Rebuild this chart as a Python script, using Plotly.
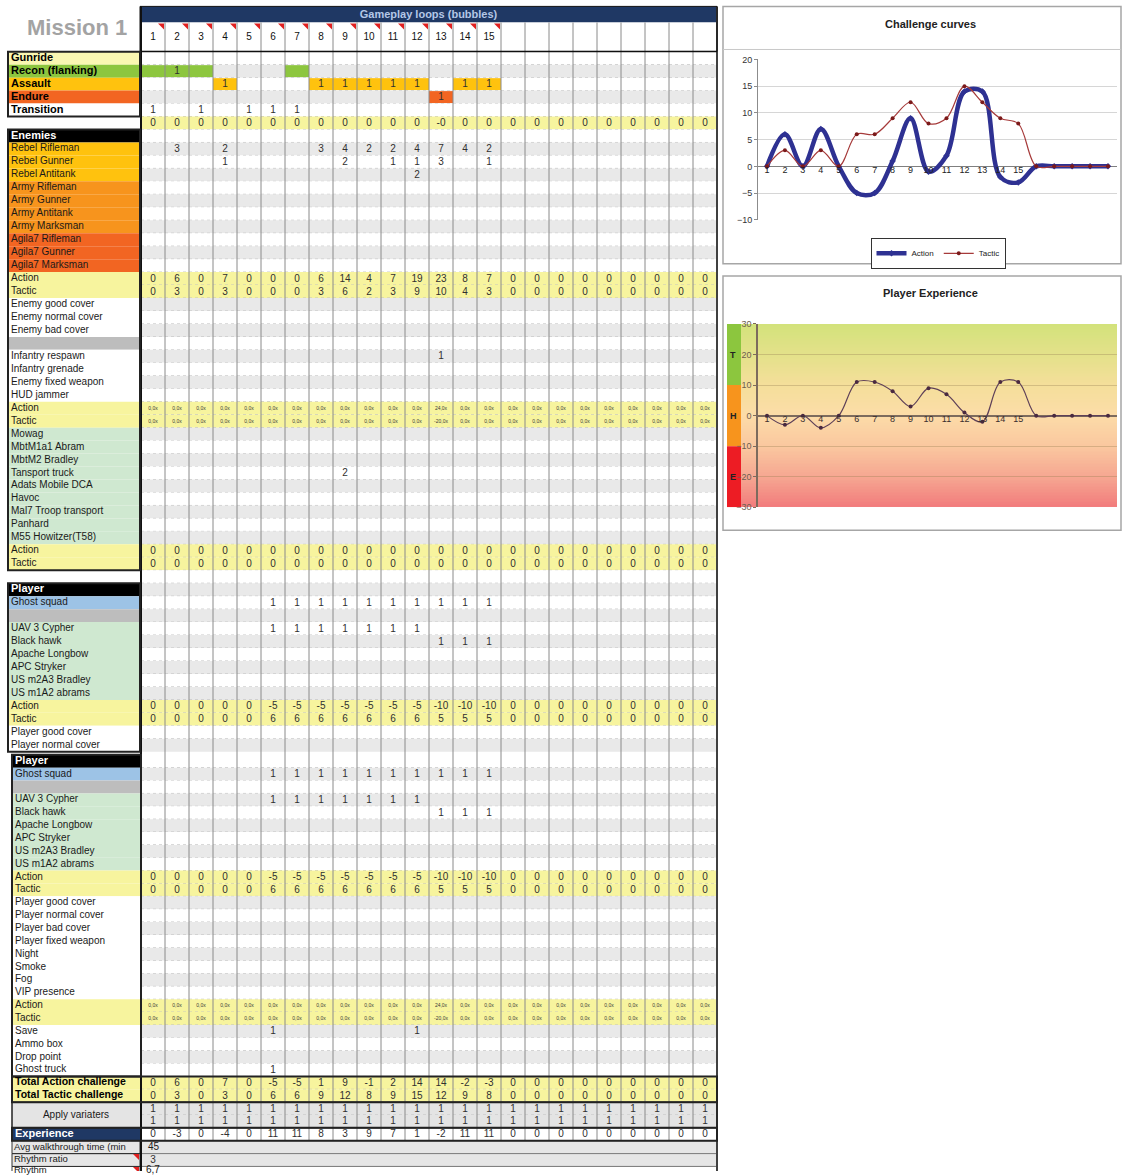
import plotly.graph_objects as go
import numpy as np

# ------------------------------------------------------------------ data
loop_numbers = [str(i) for i in range(1, 16)] + [""] * 9

gameplay_labels = ["Gunride", "Recon (flanking)", "Assault", "Endure", "Transition"]
recon = ["", "1", "", None, None, None, ""] + [None] * 17
assault = [None, None, None, "1", None, None, None, "1", "1", "1", "1", "1", None, "1", "1"] + [None] * 9
endure = [None] * 12 + ["1"] + [None] * 11
transition = [1, None, 1, None, 1, 1, 1] + [None] * 17
loop_check = ["0"] * 12 + ["-0"] + ["0"] * 11

enemy_labels = ["Rebel Rifleman", "Rebel Gunner", "Rebel Antitank",
                "Army Rifleman", "Army Gunner", "Army Antitank", "Army Marksman",
                "Agila7 Rifleman", "Agila7 Gunner", "Agila7 Marksman"]
rebel_rifleman = [None, 3, None, 2, None, None, None, 3, 4, 2, 2, 4, 7, 4, 2] + [None] * 9
rebel_gunner = [None, None, None, 1, None, None, None, None, 2, None, 1, 1, 3, None, 1] + [None] * 9
rebel_antitank = [None] * 11 + [2] + [None] * 12
enemy_action = [0, 6, 0, 7, 0, 0, 0, 6, 14, 4, 7, 19, 23, 8, 7] + [0] * 9
enemy_tactic = [0, 3, 0, 3, 0, 0, 0, 3, 6, 2, 3, 9, 10, 4, 3] + [0] * 9

cover_labels = ["Enemy good cover", "Enemy normal cover", "Enemy bad cover"]
enemy_extra_labels = ["Infantry respawn", "Infantry grenade", "Enemy fixed weapon", "HUD jammer"]
infantry_respawn = [None] * 12 + [1] + [None] * 11
modifier_action = ["0,0x"] * 12 + ["24,0x"] + ["0,0x"] * 11
modifier_tactic = ["0,0x"] * 12 + ["-20,0x"] + ["0,0x"] * 11

vehicle_labels = ["Mowag", "MbtM1a1 Abram", "MbtM2 Bradley", "Tansport truck", "Adats Mobile DCA",
                  "Havoc", "Mal7 Troop transport", "Panhard", "M55 Howitzer(T58)"]
transport_truck = [None] * 8 + [2] + [None] * 15
vehicle_action = [0] * 24
vehicle_tactic = [0] * 24

player_unit_labels = ["UAV 3 Cypher", "Black hawk", "Apache Longbow", "APC Stryker",
                      "US m2A3 Bradley", "US m1A2 abrams"]
ghost_squad = [None] * 5 + [1] * 10 + [None] * 9
uav_cypher = [None] * 5 + [1] * 7 + [None] * 12
black_hawk = [None] * 12 + [1] * 3 + [None] * 9
player_action = [0] * 5 + [-5] * 7 + [-10] * 3 + [0] * 9
player_tactic = [0] * 5 + [6] * 7 + [5] * 3 + [0] * 9

player_cover_labels = ["Player good cover", "Player normal cover", "Player bad cover",
                       "Player fixed weapon", "Night", "Smoke", "Fog", "VIP presence"]
support_labels = ["Save", "Ammo box", "Drop point", "Ghost truck"]
save = [None] * 5 + [1] + [None] * 5 + [1] + [None] * 12
ghost_truck = [None] * 5 + [1] + [None] * 18

total_action = [0, 6, 0, 7, 0, -5, -5, 1, 9, -1, 2, 14, 14, -2, -3] + [0] * 9
total_tactic = [0, 3, 0, 3, 0, 6, 6, 9, 12, 8, 9, 15, 12, 9, 8] + [0] * 9
variaters_a = [1] * 24
variaters_b = [1] * 24
experience = [0, -3, 0, -4, 0, 11, 11, 8, 3, 9, 7, 1, -2, 11, 11] + [0] * 9
avg_walkthrough = "45"
rhythm_ratio = "3"
rhythm = "6,7"

chart_categories = list(range(1, 21))
chart_tick_labels = [str(i) for i in range(1, 16)]

# ------------------------------------------------------------------ rows
rows = [("Gunride", "gunride", None),
        ("Recon (flanking)", "recon", recon),
        ("Assault", "assault", assault),
        ("Endure", "endure", endure),
        ("Transition", "plain_bold", transition),
        ("", "sum", loop_check),
        ("Enemies", "header", None)]
enemy_vals = [rebel_rifleman, rebel_gunner, rebel_antitank] + [None] * 7
enemy_kinds = ["rebel"] * 3 + ["army"] * 4 + ["agila"] * 3
rows += [(l, k, v) for l, k, v in zip(enemy_labels, enemy_kinds, enemy_vals)]
rows += [("Action", "yellow", enemy_action), ("Tactic", "yellow", enemy_tactic)]
rows += [(l, "plain", None) for l in cover_labels]
rows += [("", "gray", None)]
rows += [(l, "plain", v) for l, v in zip(enemy_extra_labels, [infantry_respawn, None, None, None])]
rows += [("Action", "tiny", modifier_action), ("Tactic", "tiny", modifier_tactic)]
rows += [(l, "green", transport_truck if l == "Tansport truck" else None) for l in vehicle_labels]
rows += [("Action", "yellow", vehicle_action), ("Tactic", "yellow", vehicle_tactic)]
rows += [("", "blank", None)]


def player_block():
    b = [("Player", "header", None), ("Ghost squad", "blue", ghost_squad), ("", "gray", None)]
    b += [(l, "green", v) for l, v in zip(player_unit_labels, [uav_cypher, black_hawk, None, None, None, None])]
    b += [("Action", "yellow", player_action), ("Tactic", "yellow", player_tactic)]
    return b


rows += player_block()
rows += [(l, "plain", None) for l in player_cover_labels[:2]]
SPLIT = len(rows)  # 54
rows += player_block()
rows += [(l, "plain", None) for l in player_cover_labels]
rows += [("Action", "tiny", modifier_action), ("Tactic", "tiny", modifier_tactic)]
rows += [(l, "plain", v) for l, v in zip(support_labels, [save, None, None, ghost_truck])]
rows += [("Total Action challenge", "total", total_action), ("Total Tactic challenge", "total", total_tactic)]
rows += [("Apply variaters", "variaters", variaters_a), ("", "variaters2", variaters_b)]
rows += [("Experience", "exp", experience)]
rows += [("Avg walkthrough time (min", "info_gray", None), ("Rhythm ratio", "info_gray", None),
         ("Rhythm", "info_white", None)]

# ------------------------------------------------------------------ geometry / style
W, H = 1122, 1176
# vertical calibration of the page coordinates (sheet pixel -> figure)
Y_OFF, Y_SCALE = 5.6, 0.9897
Y_TOP, Y_BOT = Y_OFF, Y_OFF + Y_SCALE * H


def dom_y(y_px):
    return 1 - (y_px - Y_TOP) / (Y_BOT - Y_TOP)


FONT = "Liberation Sans, Arial, sans-serif"
COL_X0, COL_W, N_COLS = 141.0, 24.0, 24
X_RIGHT = COL_X0 + N_COLS * COL_W
YELLOW = "#F7F49E"
STRIPE = "#E9E9E9"
LABEL_FILL = {"gunride": "#FAF7B2", "recon": "#8DC63F", "assault": "#FFC20E", "endure": "#F26522",
              "plain_bold": "#FFFFFF", "header": "#000000", "rebel": "#FFC20E", "army": "#F7941D",
              "agila": "#F26522", "yellow": YELLOW, "tiny": YELLOW, "plain": "#FFFFFF", "gray": "#BDBDBD",
              "green": "#CFE8D0", "blue": "#9DC3E6", "total": YELLOW, "variaters": "#E4E4E4",
              "exp": "#1F3864", "info_gray": "#E6E6E6", "info_white": "#FFFFFF"}


def col_left(c):
    return COL_X0 + c * COL_W


def col_center(c):
    return COL_X0 + (c + 0.5) * COL_W


def pitch(i):
    return 12.94 if i < SPLIT else 12.84


def row_center(i):
    if i < SPLIT:
        return 58.7 + i * 12.94
    return 760.5 + (i - SPLIT) * 12.84


def row_top(i):
    return row_center(i) - pitch(i) / 2


def row_bot(i):
    return row_center(i) + pitch(i) / 2


shapes = []


def rect(x0, y0, x1, y1, fill=None, lc=None, lw=0, layer="below", xref="x", yref="y", dash=None):
    d = dict(type="rect", x0=x0, y0=y0, x1=x1, y1=y1, xref=xref, yref=yref, layer=layer,
             fillcolor=fill if fill else "rgba(0,0,0,0)",
             line=dict(color=lc if lc else "rgba(0,0,0,0)", width=lw))
    if dash:
        d["line"]["dash"] = dash
    shapes.append(d)


def line(x0, y0, x1, y1, color, width=1, dash=None, xref="x", yref="y"):
    d = dict(type="line", x0=x0, y0=y0, x1=x1, y1=y1, xref=xref, yref=yref, layer="below",
             line=dict(color=color, width=width))
    if dash:
        d["line"]["dash"] = dash
    shapes.append(d)


texts = {}


def add_text(style, x, y, t):
    s = texts.setdefault(style, {"x": [], "y": [], "t": []})
    s["x"].append(x)
    s["y"].append(y)
    s["t"].append(t)


# header
rect(140, 7, X_RIGHT, 23, fill="#1F3864")
rect(141, 23, X_RIGHT, 52, fill="#FFFFFF")
add_text("hdr_title", (140 + X_RIGHT) / 2, 15.5, "Gameplay loops (bubbles)")
for c, lab in enumerate(loop_numbers):
    add_text("hdr_num", col_center(c), 38, lab)

i84, i85, i86 = len(rows) - 3, len(rows) - 2, len(rows) - 1

# rows
for i, (label, kind, vals) in enumerate(rows):
    t, b = row_top(i), row_bot(i)
    lx0 = 8 if i < SPLIT else 12
    if kind in ("yellow", "tiny", "sum", "total"):
        fill = YELLOW
    elif kind in ("variaters", "variaters2"):
        fill = "#E4E4E4"
    elif kind in ("exp", "info_white"):
        fill = "#FFFFFF"
    elif kind == "info_gray":
        fill = "#E6E6E6"
    else:
        fill = STRIPE if i % 2 == 1 else "#FFFFFF"
    rect(COL_X0, t, X_RIGHT, b, fill=fill)
    if kind not in ("sum", "blank", "variaters2"):
        bottom = row_bot(i + 1) if kind == "variaters" else b
        rect(lx0, t, 140, bottom, fill=LABEL_FILL[kind])
    if kind in ("recon", "assault", "endure"):
        for c, v in enumerate(vals):
            if v is not None:
                rect(col_left(c), t + 0.5, col_left(c) + COL_W, b - 0.5, fill=LABEL_FILL[kind])
    if vals is not None:
        for c, v in enumerate(vals):
            if v is None or v == "":
                continue
            add_text("tiny" if kind == "tiny" else "num", col_center(c), row_center(i) + 0.5, str(v))
    if label:
        ty = row_center(i) - (2.5 if i == i86 else 0)
        if kind in ("header", "exp"):
            add_text("label_white", lx0 + 3, ty, label)
        elif kind in ("gunride", "recon", "assault", "endure", "plain_bold"):
            add_text("label_bold", lx0 + 3, ty, label)
        elif kind == "total":
            add_text("label_total", lx0 + 3, ty, label)
        elif kind == "variaters":
            add_text("label_center", (lx0 + 140) / 2, (t + row_bot(i + 1)) / 2, label)
        elif kind in ("info_gray", "info_white"):
            add_text("label_small", lx0 + 2, ty, label)
        else:
            add_text("label", lx0 + 3, ty, label)
    if kind not in ("info_gray", "info_white", "exp") and i != SPLIT - 1:
        line(COL_X0, b, X_RIGHT, b, "#C2C2C2", 1, dash="dot")

# info rows (merged cells)
rect(COL_X0, row_top(i84), X_RIGHT, row_bot(i84), fill="#E6E6E6", lc="#7F7F7F", lw=1)
rect(COL_X0, row_top(i85), X_RIGHT, row_bot(i85), fill="#E6E6E6", lc="#7F7F7F", lw=1)
rect(COL_X0, row_top(i86), X_RIGHT, row_bot(i86), fill="#FFFFFF", lc="#7F7F7F", lw=1)
add_text("info_left", COL_X0 + 7, row_center(i84), avg_walkthrough)
add_text("num", col_center(0), row_center(i85), rhythm_ratio)
add_text("info_left", COL_X0 + 5, row_center(i86) - 2.5, rhythm)
for r in (i84, i85, i86):
    rect(12, row_top(r), 140, row_bot(r), lc="#333333", lw=1)

# column lines
i_exp = len(rows) - 4
for c in range(N_COLS + 1):
    x = col_left(c)
    if c == 0:
        line(x, 7, x, Y_BOT, "#111111", 2)
    elif c == N_COLS:
        line(x, 7, x, Y_BOT, "#404040", 2)
    else:
        line(x, 23, x, row_bot(i_exp), "#8A8A8A", 1)
line(141, 52, X_RIGHT, 52, "#111111", 1.5)
rect(140, 7, X_RIGHT, 52, lc="#111111", lw=1)

# group boxes
rect(8, row_top(0), 140, row_bot(4), lc="#222222", lw=2)
rect(8, row_top(6), 140, row_bot(39), lc="#222222", lw=2)
rect(8, row_top(41), 140, row_bot(SPLIT - 1), lc="#222222", lw=2)
rect(12, row_top(SPLIT), 141, row_bot(78), lc="#222222", lw=2)
rect(12, row_top(79), X_RIGHT, row_bot(80), lc="#222222", lw=2)
rect(12, row_top(81), X_RIGHT, row_bot(82), lc="#222222", lw=1.5)
rect(12, row_top(i_exp), X_RIGHT, row_bot(i_exp), lc="#222222", lw=2)

# comment markers (red triangles)
for c in range(15):
    xr = col_left(c + 1) - 1
    shapes.append(dict(type="path", path=f"M {xr-6},24 L {xr},24 L {xr},30 Z", xref="x", yref="y",
                       fillcolor="#E02020", line=dict(width=0), layer="below"))
for r in (i85, i86):
    t = row_top(r) + 0.5
    shapes.append(dict(type="path", path=f"M 133,{t} L 139,{t} L 139,{t+6} Z", xref="x", yref="y",
                       fillcolor="#E02020", line=dict(width=0), layer="below"))

# chart frames
rect(723, 7, 1121, 264, lc="#A6A6A6", lw=1.5)
line(723, 50, 1121, 50, "#C8C8C8", 1)
rect(723, 276, 1121, 530, lc="#A6A6A6", lw=1.5)

# player-experience zone bars (on background axis x3/y3)
for y0, y1, col in ((10, 30, "#8CC63E"), (-10, 10, "#F7941D"), (-30, -10, "#ED1C24")):
    rect(727, y0, 741, y1, fill=col, xref="x3", yref="y3")

# ------------------------------------------------------------------ traces
fig = go.Figure()
TEXT_STYLES = {
    "num": dict(size=10, color="#303030", pos="middle center"),
    "tiny": dict(size=5, color="#3a3a3a", pos="middle center"),
    "label": dict(size=10, color="#1A1A1A", pos="middle right"),
    "label_small": dict(size=9.5, color="#1A1A1A", pos="middle right"),
    "label_bold": dict(size=11, color="#000000", pos="middle right", weight="bold"),
    "label_total": dict(size=10.5, color="#000000", pos="middle right", weight="bold"),
    "label_white": dict(size=11, color="#FFFFFF", pos="middle right", weight="bold"),
    "label_center": dict(size=10, color="#1A1A1A", pos="middle center"),
    "hdr_title": dict(size=11, color="#B4C7E7", pos="middle center", weight="bold"),
    "hdr_num": dict(size=10, color="#111111", pos="middle center"),
    "info_left": dict(size=10, color="#202020", pos="middle right"),
}
for style, d in texts.items():
    st = TEXT_STYLES[style]
    tf = dict(size=st["size"], color=st["color"], family=FONT)
    if "weight" in st:
        tf["weight"] = st["weight"]
    fig.add_trace(go.Scatter(x=d["x"], y=d["y"], text=d["t"], mode="text", textposition=st["pos"],
                             textfont=tf, xaxis="x", yaxis="y", hoverinfo="skip", showlegend=False,
                             cliponaxis=False))

# Challenge curves
n = len(chart_categories)
fig.add_trace(go.Scatter(x=chart_categories, y=total_action[:n], name="Action", mode="lines+markers",
                         line=dict(color="#2E3192", width=4.5, shape="spline", smoothing=1),
                         marker=dict(size=5, color="#2E3192", symbol="diamond"),
                         xaxis="x2", yaxis="y2", hoverinfo="skip"))
fig.add_trace(go.Scatter(x=chart_categories, y=total_tactic[:n], name="Tactic", mode="lines+markers",
                         line=dict(color="#A63A3A", width=1.2, shape="spline", smoothing=1),
                         marker=dict(size=4, color="#7B1A1A"),
                         xaxis="x2", yaxis="y2", hoverinfo="skip"))
fig.add_trace(go.Scatter(x=chart_categories[:len(chart_tick_labels)], y=[0] * len(chart_tick_labels),
                         text=chart_tick_labels, mode="text", textposition="bottom center",
                         textfont=dict(size=9, color="#222222", family=FONT),
                         xaxis="x2", yaxis="y2", showlegend=False, hoverinfo="skip", cliponaxis=False))

# Player experience background gradient
ny = 120
edges = np.linspace(-30, 30, ny + 1)
mids = (edges[:-1] + edges[1:]) / 2
fig.add_trace(go.Heatmap(x=[741, 929, 1117], y=edges, z=np.column_stack([mids, mids]),
                         zmin=-30, zmax=30, showscale=False, hoverinfo="skip",
                         colorscale=[[0, "#F27C7C"], [0.17, "#F6A892"], [0.33, "#FAC79F"],
                                     [0.5, "#FCDCA8"], [0.67, "#F4DF9A"], [0.83, "#E4E18A"],
                                     [1, "#D3E27B"]],
                         xaxis="x3", yaxis="y3"))
fig.add_trace(go.Scatter(x=chart_categories, y=experience[:n], mode="lines+markers",
                         line=dict(color="#5E4058", width=1.2, shape="spline", smoothing=1),
                         marker=dict(size=4, color="#4A2A40"), showlegend=False,
                         xaxis="x4", yaxis="y4", hoverinfo="skip"))
fig.add_trace(go.Scatter(x=chart_categories[:len(chart_tick_labels)], y=[0] * len(chart_tick_labels),
                         text=chart_tick_labels, mode="text", textposition="bottom center",
                         textfont=dict(size=9, color="#3A2E2E", family=FONT),
                         xaxis="x4", yaxis="y4", showlegend=False, hoverinfo="skip", cliponaxis=False))

annotations = [
    dict(x=77, y=28, xref="x", yref="y", text="Mission 1", showarrow=False,
         font=dict(size=22, color="#A3A3A3", family="Liberation Sans Narrow, Liberation Sans, sans-serif",
                   weight="bold")),
    dict(x=930, y=25, xref="x", yref="y", text="Challenge curves", showarrow=False,
         font=dict(size=11, color="#222222", family=FONT, weight="bold")),
    dict(x=930, y=293, xref="x", yref="y", text="Player Experience", showarrow=False,
         font=dict(size=11, color="#222222", family=FONT, weight="bold")),
]
for yv, letter in ((20, "T"), (0, "H"), (-20, "E")):
    annotations.append(dict(x=733, y=yv, xref="x3", yref="y3", text=letter, showarrow=False,
                            font=dict(size=9, color="#222222", family=FONT, weight="bold")))

fig.update_layout(
    width=W, height=H, margin=dict(l=0, r=0, t=0, b=0),
    paper_bgcolor="white", plot_bgcolor="rgba(0,0,0,0)",
    shapes=shapes, annotations=annotations,
    xaxis=dict(domain=[0, 1], range=[0, W], visible=False, fixedrange=True),
    yaxis=dict(domain=[0, 1], range=[Y_BOT, Y_TOP], visible=False, fixedrange=True),
    xaxis2=dict(domain=[758 / W, 1117 / W], range=[0.5, 20.5], anchor="y2", visible=False),
    yaxis2=dict(domain=[dom_y(220), dom_y(60)], range=[-10, 20], anchor="x2",
                tickvals=[-10, -5, 0, 5, 10, 15, 20], showgrid=True, gridcolor="#D6D6D6",
                zeroline=True, zerolinecolor="#7F7F7F", zerolinewidth=1,
                showline=True, linecolor="#8C8C8C", ticks="outside", ticklen=3, tickcolor="#8C8C8C",
                tickfont=dict(size=9, color="#333333", family=FONT)),
    xaxis3=dict(domain=[727 / W, 1117 / W], range=[727, 1117], anchor="y3", visible=False),
    yaxis3=dict(domain=[dom_y(507), dom_y(324)], range=[-30, 30], anchor="x3", visible=False),
    xaxis4=dict(domain=[758 / W, 1117 / W], range=[0.5, 20.5], anchor="y4", visible=False),
    yaxis4=dict(domain=[dom_y(507), dom_y(324)], range=[-30, 30], anchor="x4",
                tickvals=[-30, -20, -10, 0, 10, 20, 30], showgrid=True, gridcolor="rgba(150,125,80,0.35)",
                zeroline=True, zerolinecolor="#7D6B5D", zerolinewidth=1.5,
                showline=True, linecolor="#7D6B5D", linewidth=1.5, ticks="outside", ticklen=3,
                tickcolor="#7D6B5D", tickfont=dict(size=9, color="#6E5E4E", family=FONT)),
    showlegend=True,
    legend=dict(x=938 / W, y=dom_y(238), xanchor="center", yanchor="top", orientation="h",
                bgcolor="white", bordercolor="#333333", borderwidth=1,
                font=dict(size=8, color="#222222", family=FONT), itemwidth=30,
                tracegroupgap=0),
)

fig.write_html(
    "out.html",
    config={"displayModeBar": False},
    post_script=(
        "document.documentElement.style.margin='0';"
        "document.documentElement.style.overflow='hidden';"
        "document.body.style.margin='0';document.body.style.padding='0';"
        "document.body.style.overflow='hidden';document.body.style.height='1176px';"
        "var gd=document.getElementById('{plot_id}');"
        "gd.style.position='absolute';gd.style.left='0px';gd.style.top='0px';"
    ),
)
